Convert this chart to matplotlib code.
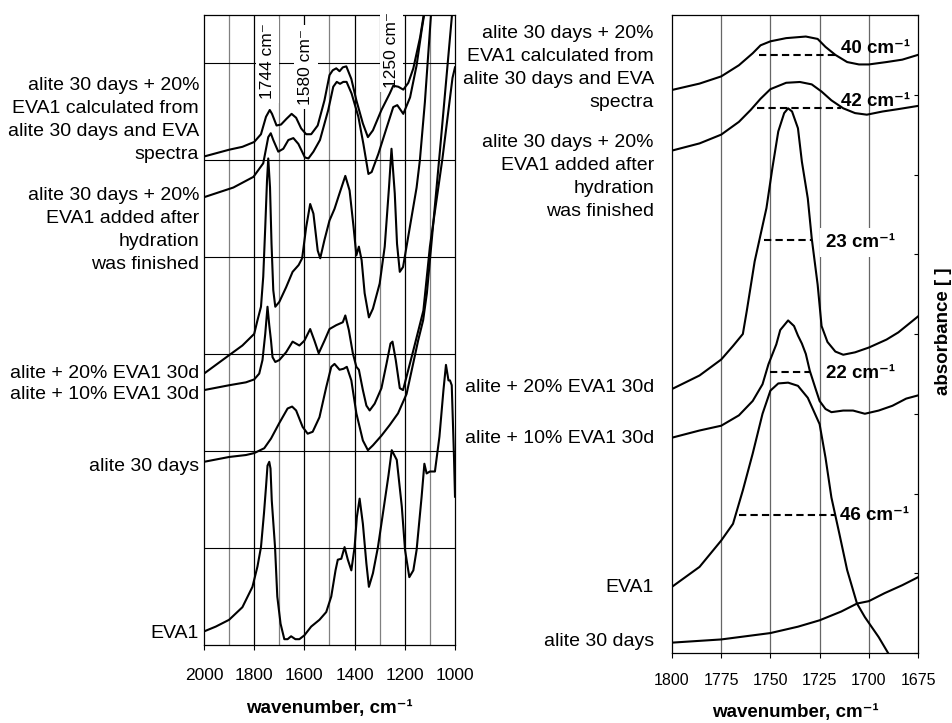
import matplotlib
matplotlib.use("Agg")
import matplotlib.pyplot as plt

plt.rcParams['font.family'] = ['Liberation Sans', 'DejaVu Sans']

# ---- left panel, 2000-1000 cm-1 (stacked absorbance, arbitrary offsets)
calc_wn = [2000, 1900, 1847, 1800, 1773, 1753, 1738, 1729, 1711, 1693, 1671, 1651, 1633, 1613, 1593,
           1573, 1547, 1520, 1500, 1487, 1473, 1460, 1447, 1433, 1413, 1393, 1367, 1347, 1327, 1293,
           1260, 1246, 1226, 1206, 1186, 1166, 1139, 1126, 1105]
calc_ab = [5.04, 5.11, 5.14, 5.19, 5.27, 5.45, 5.52, 5.48, 5.36, 5.37, 5.43, 5.48, 5.44, 5.33, 5.27,
           5.27, 5.36, 5.62, 5.88, 5.93, 5.95, 5.92, 5.96, 5.97, 5.84, 5.62, 5.38, 5.24, 5.31, 5.52,
           5.69, 5.77, 5.76, 5.73, 5.80, 5.95, 6.27, 6.48, 6.90]

added_wn = [2000, 1883, 1803, 1764, 1744, 1734, 1724, 1704, 1684, 1664, 1644, 1624, 1598, 1584, 1564,
            1538, 1505, 1485, 1471, 1458, 1445, 1432, 1412, 1385, 1365, 1345, 1332, 1305, 1272, 1246,
            1230, 1206, 1179, 1153, 1133, 1120, 1100]
added_ab = [4.62, 4.72, 4.83, 4.97, 5.24, 5.28, 5.21, 5.09, 5.12, 5.21, 5.23, 5.17, 5.03, 5.02, 5.09,
            5.21, 5.52, 5.76, 5.81, 5.79, 5.81, 5.81, 5.69, 5.45, 5.17, 4.86, 4.88, 5.07, 5.34, 5.55,
            5.57, 5.48, 5.65, 5.98, 6.34, 6.55, 6.90]

e20_wn = [2000, 1900, 1847, 1800, 1787, 1773, 1764, 1756, 1749, 1744, 1737, 1731, 1724, 1716, 1700,
          1673, 1647, 1623, 1609, 1593, 1577, 1564, 1547, 1537, 1520, 1500, 1480, 1460, 1437, 1420,
          1404, 1393, 1383, 1372, 1360, 1343, 1327, 1300, 1280, 1263, 1253, 1240, 1231, 1220, 1207,
          1180, 1153, 1140, 1120, 1096, 1085]
e20_ab = [2.80, 2.99, 3.09, 3.21, 3.35, 3.49, 3.80, 4.31, 4.79, 5.02, 4.72, 4.14, 3.66, 3.49, 3.54,
          3.69, 3.85, 3.92, 3.99, 4.31, 4.55, 4.45, 4.07, 3.99, 4.18, 4.38, 4.50, 4.66, 4.84, 4.69,
          4.31, 4.02, 4.11, 3.97, 3.63, 3.38, 3.47, 3.73, 4.11, 4.72, 5.12, 4.66, 4.14, 3.85, 3.90,
          4.31, 4.72, 5.00, 5.60, 6.49, 6.90]

e10_wn = [2000, 1900, 1833, 1800, 1780, 1767, 1756, 1747, 1740, 1733, 1727, 1716, 1700, 1673, 1647,
          1620, 1600, 1577, 1560, 1543, 1520, 1500, 1473, 1447, 1437, 1423, 1407, 1393, 1383, 1367,
          1353, 1340, 1320, 1293, 1273, 1257, 1249, 1236, 1220, 1207, 1166, 1126, 1100, 1050, 1010,
          1000]
e10_ab = [2.63, 2.68, 2.71, 2.74, 2.80, 2.94, 3.21, 3.49, 3.30, 3.14, 2.97, 2.92, 2.94, 3.02, 3.13,
          3.09, 3.14, 3.26, 3.14, 3.01, 3.14, 3.26, 3.30, 3.33, 3.40, 3.25, 3.01, 2.87, 2.84, 2.63,
          2.47, 2.42, 2.49, 2.65, 2.90, 3.11, 3.13, 2.94, 2.65, 2.63, 3.04, 3.45, 4.11, 5.02, 5.85,
          5.96]

alite_wn = [2000, 1900, 1833, 1800, 1760, 1733, 1700, 1667, 1649, 1633, 1607, 1587, 1567, 1540, 1513,
            1493, 1480, 1460, 1444, 1431, 1413, 1393, 1367, 1347, 1327, 1293, 1260, 1227, 1193, 1167,
            1147, 1127, 1112, 1060, 1013, 1000]
alite_ab = [1.89, 1.94, 1.96, 1.98, 2.03, 2.13, 2.29, 2.44, 2.46, 2.42, 2.25, 2.18, 2.20, 2.35, 2.66,
            2.87, 2.90, 2.84, 2.85, 2.87, 2.73, 2.39, 2.11, 2.01, 2.06, 2.16, 2.27, 2.39, 2.59, 2.90,
            3.14, 3.35, 3.63, 5.10, 6.47, 6.90]

eva_wn = [2000, 1953, 1900, 1847, 1807, 1787, 1773, 1761, 1753, 1747, 1740, 1735, 1730, 1717, 1708,
          1695, 1680, 1667, 1653, 1636, 1620, 1600, 1573, 1540, 1513, 1493, 1476, 1467, 1453, 1440,
          1427, 1413, 1400, 1391, 1380, 1367, 1353, 1343, 1327, 1307, 1287, 1265, 1252, 1232, 1212,
          1199, 1182, 1166, 1153, 1133, 1122, 1113, 1100, 1080, 1062, 1046, 1036, 1026, 1020, 1013,
          1004, 1000]
eva_ab = [0.14, 0.19, 0.26, 0.39, 0.60, 0.81, 1.01, 1.36, 1.63, 1.85, 1.89, 1.82, 1.49, 1.01, 0.50,
          0.22, 0.06, 0.06, 0.09, 0.06, 0.06, 0.10, 0.19, 0.26, 0.34, 0.50, 0.77, 0.88, 0.89, 1.01,
          0.88, 0.77, 1.01, 1.32, 1.51, 1.25, 0.84, 0.60, 0.74, 1.01, 1.36, 1.75, 2.01, 1.91, 1.43,
          0.98, 0.70, 0.77, 0.98, 1.53, 1.87, 1.77, 1.79, 1.79, 2.15, 2.63, 2.89, 2.73, 2.73, 2.68,
          1.94, 1.53]

peak_marks = ["1744 cm⁻", "1580 cm⁻", "1250 cm⁻"]
peak_wn = [1748, 1594, 1252]
peak_base = [5.63, 5.57, 5.75]

# ---- right panel, 1800-1675 cm-1 (C=O band)
r_calc_wn = [1800, 1786, 1775, 1766, 1759, 1755, 1750, 1742, 1732, 1726, 1722, 1717, 1711, 1705, 1700,
             1691, 1683, 1675]
r_calc_ab = [7.06, 7.14, 7.23, 7.37, 7.52, 7.62, 7.67, 7.71, 7.73, 7.70, 7.60, 7.50, 7.41, 7.38, 7.38,
             7.41, 7.44, 7.50]

r_added_wn = [1800, 1786, 1775, 1766, 1760, 1755, 1750, 1742, 1735, 1729, 1724, 1719, 1713, 1707, 1701,
              1693, 1685, 1675]
r_added_ab = [6.30, 6.39, 6.50, 6.66, 6.81, 6.95, 7.07, 7.15, 7.16, 7.13, 7.04, 6.93, 6.83, 6.77, 6.75,
              6.79, 6.82, 6.86]

r_e20_wn = [1800, 1786, 1775, 1769, 1764, 1762, 1758, 1752, 1749, 1746, 1743, 1741, 1739, 1736, 1734,
            1731, 1729, 1726, 1724, 1721, 1717, 1713, 1707, 1700, 1691, 1685, 1675]
r_e20_ab = [3.31, 3.48, 3.68, 3.85, 4.00, 4.29, 4.91, 5.58, 6.08, 6.54, 6.77, 6.83, 6.79, 6.58, 6.16,
            5.70, 5.20, 4.62, 4.10, 3.90, 3.78, 3.74, 3.77, 3.83, 3.93, 4.02, 4.22]

r_e10_wn = [1800, 1786, 1775, 1766, 1759, 1754, 1751, 1747, 1745, 1741, 1738, 1736, 1734, 1732, 1730,
            1727, 1725, 1722, 1719, 1713, 1708, 1702, 1695, 1688, 1681, 1675]
r_e10_ab = [2.70, 2.79, 2.85, 2.98, 3.16, 3.37, 3.62, 3.87, 4.05, 4.17, 4.10, 3.98, 3.88, 3.75, 3.54,
            3.31, 3.16, 3.06, 3.02, 3.04, 3.04, 3.00, 3.04, 3.10, 3.19, 3.23]

r_eva_wn = [1800, 1786, 1775, 1769, 1764, 1759, 1754, 1750, 1746, 1741, 1736, 1731, 1725, 1722, 1719,
            1715, 1711, 1706, 1702, 1695, 1689]
r_eva_ab = [0.83, 1.08, 1.41, 1.62, 2.04, 2.50, 3.00, 3.29, 3.38, 3.39, 3.35, 3.20, 2.87, 2.45, 1.95,
            1.50, 1.04, 0.62, 0.45, 0.20, -0.05]

r_alite_wn = [1800, 1775, 1750, 1736, 1725, 1714, 1706, 1700, 1692, 1683, 1675]
r_alite_ab = [0.13, 0.17, 0.25, 0.33, 0.41, 0.52, 0.62, 0.65, 0.75, 0.85, 0.95]

# half-height widths: label, dash start, dash end, dash level, text x, text baseline
fwhm_text = ["40 cm⁻¹", "42 cm⁻¹", "23 cm⁻¹", "22 cm⁻¹", "46 cm⁻¹"]
fwhm_from = [1756, 1757, 1753, 1750, 1766]
fwhm_to = [1715, 1714, 1729, 1730, 1717]
fwhm_level = [7.50, 6.84, 5.18, 3.52, 1.73]
fwhm_tx = [1714, 1714, 1722, 1722, 1714.5]
fwhm_ty = [7.52, 6.86, 5.09, 3.45, 1.67]

labels_left = ["alite 30 days + 20%\nEVA1 calculated from\nalite 30 days and EVA\nspectra",
               "alite 30 days + 20%\nEVA1 added after\nhydration\nwas finished",
               "alite + 20% EVA1 30d", "alite + 10% EVA1 30d", "alite 30 days", "EVA1"]
labels_left_y = [120, 230, 373, 395, 466, 634]
labels_right = labels_left[:2] + ["alite + 20% EVA1 30d", "alite + 10% EVA1 30d", "EVA1", "alite 30 days"]
labels_right_y = [68, 177, 387, 439, 588, 642]

W, H = 952, 723
fig = plt.figure(figsize=(W / 100, H / 100), dpi=100)
ax1 = fig.add_axes([204 / W, 1 - 645 / H, 251 / W, 630 / H])
ax2 = fig.add_axes([672 / W, 1 - 653 / H, 246 / W, 638 / H])

# left
for w in range(1900, 1000, -100):
    ax1.axvline(w, color='black' if w % 200 == 0 else '0.5', lw=0.9, zorder=1)
for g in range(1, 7):
    ax1.axhline(g, color='black', lw=0.8, zorder=1)
for wn, ab in [(calc_wn, calc_ab), (added_wn, added_ab), (e20_wn, e20_ab),
               (e10_wn, e10_ab), (alite_wn, alite_ab), (eva_wn, eva_ab)]:
    ax1.plot(wn, ab, color='black', lw=1.5, zorder=2)
for t, w, b in zip(peak_marks, peak_wn, peak_base):
    ax1.text(w, b, t, rotation=90, ha='center', va='bottom', fontsize=12.5, zorder=1.5,
             bbox=dict(facecolor='white', edgecolor='none', pad=3))
ax1.set_xlim(2000, 1000)
ax1.set_ylim(0, 6.5)
ax1.set_xticks(range(2000, 999, -200))
ax1.set_yticks([])
ax1.tick_params(axis='x', direction='out', length=3.6, width=0.8, labelsize=12.5, pad=13)
for s in ax1.spines.values():
    s.set_linewidth(0.9)
ax1.spines['top'].set_zorder(1)

# right
for w in range(1775, 1675, -25):
    ax2.axvline(w, color='0.4', lw=0.9, zorder=1)
for wn, ab in [(r_calc_wn, r_calc_ab), (r_added_wn, r_added_ab), (r_e20_wn, r_e20_ab),
               (r_e10_wn, r_e10_ab), (r_eva_wn, r_eva_ab), (r_alite_wn, r_alite_ab)]:
    ax2.plot(wn, ab, color='black', lw=1.5, zorder=2)
for i, t in enumerate(fwhm_text):
    ax2.plot([fwhm_from[i], fwhm_to[i]], [fwhm_level[i]] * 2, color='black', lw=1.5,
             ls=(0, (3.5, 2)), zorder=3)
    box = dict(facecolor='white', edgecolor='none', pad=4) if t.startswith('23') else None
    ax2.text(fwhm_tx[i], fwhm_ty[i], t, ha='left', va='baseline', fontsize=13.5,
             fontweight='bold', bbox=box, zorder=4)
ax2.set_xlim(1800, 1675)
ax2.set_ylim(0, 7.975)
ax2.set_xticks(range(1800, 1674, -25))
ax2.yaxis.tick_right()
ax2.set_yticks(range(0, 9))
ax2.tick_params(axis='y', direction='in', length=3, width=0.8, labelright=False)
ax2.tick_params(axis='x', direction='out', length=3.6, width=0.8, labelsize=11.5, pad=11)
for s in ax2.spines.values():
    s.set_linewidth(0.9)

# curve labels
for t, y in zip(labels_left, labels_left_y):
    fig.text(199 / W, 1 - y / H, t, ha='right', va='center', ma='right', fontsize=14,
             linespacing=1.44)
for t, y in zip(labels_right, labels_right_y):
    fig.text(654 / W, 1 - y / H, t, ha='right', va='center', ma='right', fontsize=14,
             linespacing=1.44)

fig.text(329.5 / W, 1 - 708 / H, "wavenumber, cm⁻¹", ha='center', va='center',
         fontsize=13.5, fontweight='bold')
fig.text(795 / W, 1 - 713 / H, "wavenumber, cm⁻¹", ha='center', va='center',
         fontsize=13.5, fontweight='bold')
fig.text(943 / W, 1 - 331 / H, "absorbance [ ]", rotation=90, ha='center', va='center',
         fontsize=13.5, fontweight='bold')

fig.savefig("out.png", dpi=100)
